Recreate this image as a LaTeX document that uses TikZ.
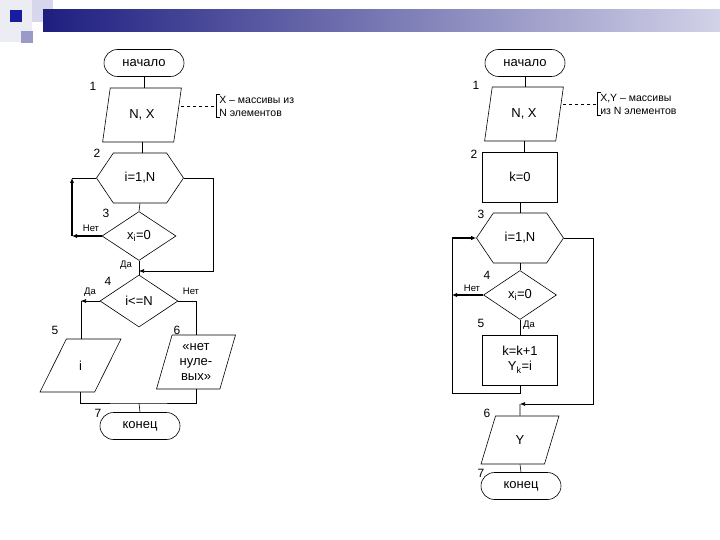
\documentclass[tikz,border=0pt]{standalone}
\usepackage{fontspec}
\setmainfont{Liberation Sans}
\usetikzlibrary{arrows.meta,shapes.geometric,shapes.misc,shapes.symbols}
\definecolor{barnavy}{HTML}{1E1E80}
\definecolor{barpale}{HTML}{D2D2E8}
\definecolor{sqdark}{HTML}{1A1A9C}
\definecolor{sqmid}{HTML}{9A9AC8}
\definecolor{sqlight}{HTML}{D6D6EC}
\definecolor{sqpale}{HTML}{ECECF4}
\newcommand{\mainsize}{\fontsize{13}{15}\selectfont}
\tikzset{
  startend/.style={
    draw, rounded rectangle, minimum width=80pt, minimum height=27pt,
    inner sep=0pt, font=\mainsize
  },
  ioblock/.style={
    draw, trapezium, trapezium left angle=74, trapezium right angle=106,
    trapezium stretches=true, minimum width=79pt, minimum height=54pt,
    inner sep=0pt, align=center, font=\mainsize
  },
  procblock/.style={
    draw, rectangle, minimum width=75pt, minimum height=50pt,
    inner sep=0pt, align=center, font=\mainsize
  },
  loopblock/.style={
    draw, signal, signal to=west and east, signal pointer angle=112,
    minimum width=87pt, minimum height=50pt,
    inner sep=0pt, font=\mainsize
  },
  decision/.style={
    draw, diamond, minimum width=74pt, minimum height=49pt,
    inner sep=0pt, font=\mainsize
  },
  numlabel/.style={font=\fontsize{12}{14}\selectfont, inner sep=0pt},
  branchlabel/.style={font=\fontsize{9.5}{11}\selectfont, inner sep=0pt},
  notetext/.style={
    align=left, inner xsep=3pt, inner ysep=1pt,
    font=\fontsize{10.5}{13}\selectfont
  },
  flowarrow/.style={-{Latex[length=5pt,width=4pt]}},
  thickarrow/.style={line width=1.6pt, -{Latex[length=5pt,width=4.5pt]}}
}
\begin{document}
\begin{tikzpicture}[x=1pt, y=-1pt, line width=0.6pt]
  \useasboundingbox (0,0) rectangle (720,540);
  % slide decoration
  \fill[sqpale] (0,0) rectangle (32,42);
  \fill[sqlight] (32,0) rectangle (53,22);
  \shade[left color=barnavy, right color=barpale] (43,10) rectangle (720,32);
  \fill[sqmid] (21,31) rectangle (33,43);
  \fill[sqdark] (10,10) rectangle (22,22);

  % left chart
  \node[startend] (lstart) at (144,63) {начало};
  \node[ioblock] (linput) at (142,115) {N, X};
  \node[loopblock] (lloop) at (140,178) {i=1,N};
  \node[decision] (lcheck) at (139,236) {x\textsubscript{i}=0};
  \node[decision, minimum width=78pt, minimum height=52pt] (lcount) at (139,301) {i<=N};
  \node[ioblock, minimum width=81pt, minimum height=53pt] (lout) at (80.5,365.5) {i};
  \node[ioblock] (lnone) at (196,362) {«нет\\нуле-\\вых»};
  \node[startend] (lend) at (140,426) {конец};
  \node[notetext, anchor=west] (lnote) at (216,106) {X – массивы из\\N элементов};

  \node[numlabel] at (93,86) {1};
  \node[numlabel] at (97,153) {2};
  \node[numlabel] at (106,213) {3};
  \node[numlabel] at (108,281) {4};
  \node[numlabel] at (55,330) {5};
  \node[numlabel] at (177,330) {6};
  \node[numlabel] at (98,413) {7};
  \node[branchlabel] at (91,228) {Нет};
  \node[branchlabel] at (126,265) {Да};
  \node[branchlabel] at (90,292) {Да};
  \node[branchlabel] at (191,291) {Нет};

  \coordinate (lback) at (72,178);
  \coordinate (lturn) at (72,236);
  \coordinate (ljoin) at (139,271);
  \coordinate (lyes) at (81,301);
  \coordinate (lmerge) at (139,403);

  \draw (lstart.south) -- (lstart.south |- linput.north);
  \draw (linput.south) -- (linput.south |- lloop.north);
  \draw (lloop.south) -- (lcheck.north);
  \draw (lcheck.south) -- (lcount.north);
  \draw[thickarrow] (lcheck.west) -- (lturn);
  \draw[thickarrow] (lturn) -- (lback);
  \draw (lback) -- (lloop.west);
  \draw[flowarrow] (lloop.east) -- ++(29,0) |- (ljoin);
  \draw[flowarrow] (lcount.west) -- (lyes);
  \draw (lyes) -- (lyes |- lout.north);
  \draw (lcount.east) -| (lnone.north);
  \draw (lout.south) |- (lmerge) -| (lnone.south);
  \draw (lmerge) -- (lend.north);
  \draw[dashed] ([xshift=3pt]linput.east |- lnote.west) -- (lnote.west);
  \draw ([xshift=4pt]lnote.north west) -| (lnote.south west) -- ++(4,0);

  % right chart
  \node[startend] (rstart) at (525,63) {начало};
  \node[ioblock] (rinput) at (524,114) {N, X};
  \node[procblock] (rinit) at (520,177) {k=0};
  \node[loopblock] (rloop) at (520,238) {i=1,N};
  \node[decision, minimum width=73pt] (rcheck) at (520,295) {x\textsubscript{i}=0};
  \node[procblock] (rstore) at (520,360) {k=k+1\\Y\textsubscript{k}=i};
  \node[ioblock, minimum width=78pt, minimum height=48pt] (rout) at (520,440) {Y};
  \node[startend] (rend) at (521,486) {конец};
  \node[notetext, anchor=west] (rnote) at (597,104) {X,Y – массивы\\из N элементов};

  \node[numlabel] at (476,85) {1};
  \node[numlabel] at (474,154) {2};
  \node[numlabel] at (481,214) {3};
  \node[numlabel] at (487,275) {4};
  \node[numlabel] at (481,323) {5};
  \node[numlabel] at (487,413) {6};
  \node[numlabel] at (481,473) {7};
  \node[branchlabel] at (472,288) {Нет};
  \node[branchlabel] at (529,325) {Да};

  \coordinate (rback) at (452,238);
  \coordinate (rjoin) at (520,404);

  \draw (rstart.south) -- (rstart.south |- rinput.north);
  \draw (rinput.south) -- (rinput.south |- rinit.north);
  \draw (rinit.south) -- (rloop.north);
  \draw (rloop.south) -- (rcheck.north);
  \draw (rcheck.south) -- (rstore.north);
  \draw (rstore.south) -- ++(0,8) -| (rback);
  \draw[thickarrow] (rback) -- (rloop.west);
  \draw[thickarrow] (rcheck.west) -- (rcheck.west -| rback);
  \draw[flowarrow] (rloop.east) -- ++(29,0) |- (rjoin);
  \draw (rjoin) -- (rout.north);
  \draw (rout.south) -- (rend.north);
  \draw[dashed] ([xshift=3pt]rinput.east |- rnote.west) -- (rnote.west);
  \draw ([xshift=4pt]rnote.north west) -| (rnote.south west) -- ++(4,0);
\end{tikzpicture}
\end{document}
